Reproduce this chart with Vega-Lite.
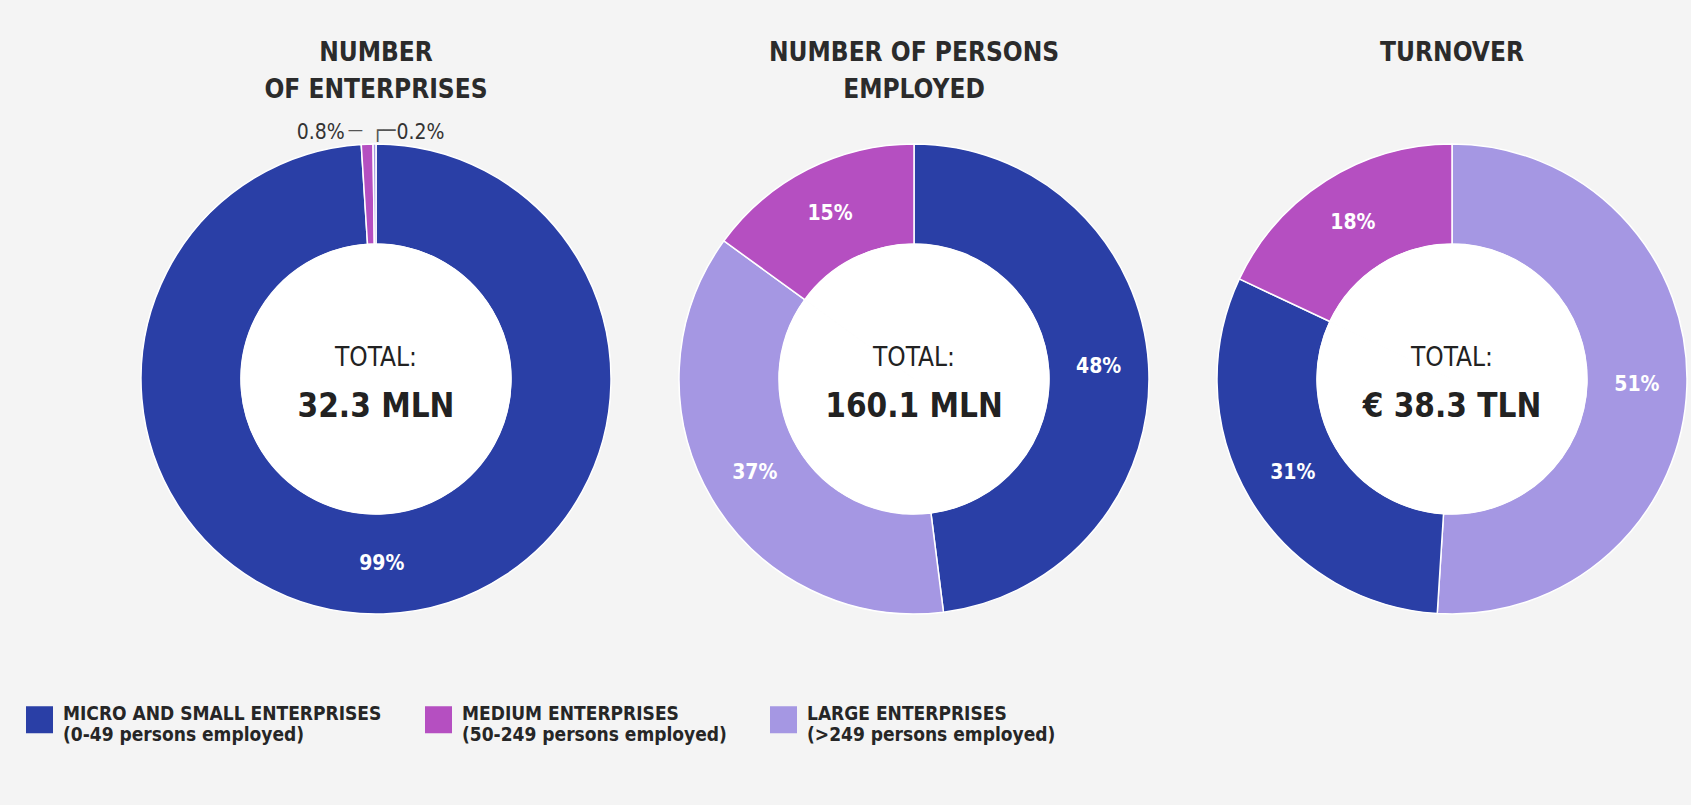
{
  "$schema": "https://vega.github.io/schema/vega-lite/v6.json",
  "background": "#f4f4f4",
  "padding": {"left": 26, "top": 40, "right": 30, "bottom": 80},
  "bounds": "flush",
  "datasets": {
    "shares": [
      {"indicator": "Number of enterprises", "size_class": "MICRO AND SMALL ENTERPRISES", "share": 0.99, "order": 1, "label": "99%"},
      {"indicator": "Number of enterprises", "size_class": "MEDIUM ENTERPRISES", "share": 0.008, "order": 2, "label": "0.8%"},
      {"indicator": "Number of enterprises", "size_class": "LARGE ENTERPRISES", "share": 0.002, "order": 3, "label": "0.2%"},
      {"indicator": "Number of persons employed", "size_class": "MICRO AND SMALL ENTERPRISES", "share": 0.48, "order": 1, "label": "48%"},
      {"indicator": "Number of persons employed", "size_class": "LARGE ENTERPRISES", "share": 0.37, "order": 2, "label": "37%"},
      {"indicator": "Number of persons employed", "size_class": "MEDIUM ENTERPRISES", "share": 0.15, "order": 3, "label": "15%"},
      {"indicator": "Turnover", "size_class": "LARGE ENTERPRISES", "share": 0.51, "order": 1, "label": "51%"},
      {"indicator": "Turnover", "size_class": "MICRO AND SMALL ENTERPRISES", "share": 0.31, "order": 2, "label": "31%"},
      {"indicator": "Turnover", "size_class": "MEDIUM ENTERPRISES", "share": 0.18, "order": 3, "label": "18%"}
    ],
    "totals": [
      {"indicator": "Number of enterprises", "caption": "TOTAL:", "total": "32.3 MLN"},
      {"indicator": "Number of persons employed", "caption": "TOTAL:", "total": "160.1 MLN"},
      {"indicator": "Turnover", "caption": "TOTAL:", "total": "€ 38.3 TLN"}
    ]
  },
  "config": {
    "view": {"stroke": null},
    "font": "DejaVu Sans Condensed, DejaVu Sans, sans-serif",
    "title": {
      "font": "DejaVu Sans Condensed, DejaVu Sans, sans-serif",
      "fontSize": 26, "fontWeight": "bold", "color": "#2b2b2b", "lineHeight": 37,
      "baseline": "alphabetic", "anchor": "middle", "frame": "group"
    }
  },
  "spacing": 68,
  "resolve": {"scale": {"color": "shared", "theta": "independent"}, "legend": {"color": "shared"}},
  "hconcat": [
    {
      "width": 470, "height": 470,
      "title": {"text": ["NUMBER", "OF ENTERPRISES"], "offset": 18},
      "data": {"name": "shares"},
      "transform": [{"filter": "datum.indicator == 'Number of enterprises'"}],
      "encoding": {
        "theta": {"field": "share", "type": "quantitative", "stack": true},
        "order": {"field": "order", "type": "quantitative"}
      },
      "layer": [
        {"mark": {"type": "arc", "innerRadius": 135, "outerRadius": 235, "stroke": "#ffffff", "strokeWidth": 1.5},
         "encoding": {"color": {"field": "size_class", "type": "nominal",
           "scale": {"domain": ["MICRO AND SMALL ENTERPRISES", "MEDIUM ENTERPRISES", "LARGE ENTERPRISES"], "range": ["#2a3fa6", "#b54fc1", "#a597e3"]},
           "legend": {"orient": "none", "legendX": -115, "legendY": 562, "direction": "horizontal", "title": null, "padding": 0,
             "symbolType": "square", "symbolSize": 729, "symbolStrokeWidth": 0, "symbolOpacity": 1, "labelOffset": 10, "columnPadding": 43,
             "labelFont": "DejaVu Sans Condensed, DejaVu Sans, sans-serif",
             "labelFontSize": 19, "labelFontWeight": "bold", "labelColor": "#262626", "labelLimit": 500, "labelBaseline": "alphabetic",
             "labelExpr": "[datum.label, datum.label == 'MICRO AND SMALL ENTERPRISES' ? '(0-49 persons employed)' : datum.label == 'MEDIUM ENTERPRISES' ? '(50-249 persons employed)' : '(>249 persons employed)']"}}}},
        {"mark": {"type": "arc", "innerRadius": 0, "outerRadius": 135, "fill": "#ffffff", "stroke": "#ffffff", "strokeWidth": 1}},
        {"mark": {"type": "text", "radius": 185, "fill": "#ffffff", "fontSize": 21, "fontWeight": "bold", "baseline": "middle"},
         "encoding": {"text": {"field": "label"}, "opacity": {"condition": {"test": "datum.share < 0.05", "value": 0}, "value": 1}}},
        {"mark": {"type": "text", "radius": 248, "fill": "#333333", "fontSize": 21, "align": "right", "baseline": "alphabetic", "dx": -22, "dy": 8},
         "encoding": {"text": {"field": "label"}, "opacity": {"condition": {"test": "datum.size_class == 'MEDIUM ENTERPRISES'", "value": 1}, "value": 0}}},
        {"mark": {"type": "text", "radius": 248, "fill": "#555555", "fontSize": 17, "align": "left", "baseline": "alphabetic", "dx": -19, "dy": 4, "text": "—"},
         "encoding": {"opacity": {"condition": {"test": "datum.size_class == 'MEDIUM ENTERPRISES'", "value": 1}, "value": 0}}},
        {"mark": {"type": "text", "radius": 248, "fill": "#333333", "fontSize": 21, "align": "left", "baseline": "alphabetic", "dx": 22, "dy": 8},
         "encoding": {"text": {"field": "label"}, "opacity": {"condition": {"test": "datum.size_class == 'LARGE ENTERPRISES'", "value": 1}, "value": 0}}},
        {"mark": {"type": "text", "radius": 248, "fill": "#555555", "font": "DejaVu Sans", "fontSize": 20, "align": "left", "baseline": "alphabetic", "dx": -3, "dy": 6, "text": "┌─"},
         "encoding": {"opacity": {"condition": {"test": "datum.size_class == 'LARGE ENTERPRISES'", "value": 1}, "value": 0}}},
        {"data": {"name": "totals"}, "transform": [{"filter": "datum.indicator == 'Number of enterprises'"}],
         "mark": {"type": "text", "fontSize": 26, "fill": "#222222", "baseline": "alphabetic", "dy": -13},
         "encoding": {"text": {"field": "caption"}, "theta": null, "order": null}},
        {"data": {"name": "totals"}, "transform": [{"filter": "datum.indicator == 'Number of enterprises'"}],
         "mark": {"type": "text", "fontSize": 33, "fontWeight": "bold", "fill": "#222222", "baseline": "alphabetic", "dy": 38},
         "encoding": {"text": {"field": "total"}, "theta": null, "order": null}}
      ]
    },
    {
      "width": 470, "height": 470,
      "title": {"text": ["NUMBER OF PERSONS", "EMPLOYED"], "offset": 38},
      "data": {"name": "shares"},
      "transform": [{"filter": "datum.indicator == 'Number of persons employed'"}],
      "encoding": {
        "theta": {"field": "share", "type": "quantitative", "stack": true},
        "order": {"field": "order", "type": "quantitative"}
      },
      "layer": [
        {"mark": {"type": "arc", "innerRadius": 135, "outerRadius": 235, "stroke": "#ffffff", "strokeWidth": 1.5},
         "encoding": {"color": {"field": "size_class", "type": "nominal",
           "scale": {"domain": ["MICRO AND SMALL ENTERPRISES", "MEDIUM ENTERPRISES", "LARGE ENTERPRISES"], "range": ["#2a3fa6", "#b54fc1", "#a597e3"]}}}},
        {"mark": {"type": "arc", "innerRadius": 0, "outerRadius": 135, "fill": "#ffffff", "stroke": "#ffffff", "strokeWidth": 1}},
        {"mark": {"type": "text", "radius": 185, "fill": "#ffffff", "fontSize": 21, "fontWeight": "bold", "baseline": "middle"},
         "encoding": {"text": {"field": "label"}}},
        {"data": {"name": "totals"}, "transform": [{"filter": "datum.indicator == 'Number of persons employed'"}],
         "mark": {"type": "text", "fontSize": 26, "fill": "#222222", "baseline": "alphabetic", "dy": -13},
         "encoding": {"text": {"field": "caption"}, "theta": null, "order": null}},
        {"data": {"name": "totals"}, "transform": [{"filter": "datum.indicator == 'Number of persons employed'"}],
         "mark": {"type": "text", "fontSize": 33, "fontWeight": "bold", "fill": "#222222", "baseline": "alphabetic", "dy": 38},
         "encoding": {"text": {"field": "total"}, "theta": null, "order": null}}
      ]
    },
    {
      "width": 470, "height": 470,
      "title": {"text": "TURNOVER", "offset": 75},
      "data": {"name": "shares"},
      "transform": [{"filter": "datum.indicator == 'Turnover'"}],
      "encoding": {
        "theta": {"field": "share", "type": "quantitative", "stack": true},
        "order": {"field": "order", "type": "quantitative"}
      },
      "layer": [
        {"mark": {"type": "arc", "innerRadius": 135, "outerRadius": 235, "stroke": "#ffffff", "strokeWidth": 1.5},
         "encoding": {"color": {"field": "size_class", "type": "nominal",
           "scale": {"domain": ["MICRO AND SMALL ENTERPRISES", "MEDIUM ENTERPRISES", "LARGE ENTERPRISES"], "range": ["#2a3fa6", "#b54fc1", "#a597e3"]}}}},
        {"mark": {"type": "arc", "innerRadius": 0, "outerRadius": 135, "fill": "#ffffff", "stroke": "#ffffff", "strokeWidth": 1}},
        {"mark": {"type": "text", "radius": 185, "fill": "#ffffff", "fontSize": 21, "fontWeight": "bold", "baseline": "middle"},
         "encoding": {"text": {"field": "label"}}},
        {"data": {"name": "totals"}, "transform": [{"filter": "datum.indicator == 'Turnover'"}],
         "mark": {"type": "text", "fontSize": 26, "fill": "#222222", "baseline": "alphabetic", "dy": -13},
         "encoding": {"text": {"field": "caption"}, "theta": null, "order": null}},
        {"data": {"name": "totals"}, "transform": [{"filter": "datum.indicator == 'Turnover'"}],
         "mark": {"type": "text", "fontSize": 33, "fontWeight": "bold", "fill": "#222222", "baseline": "alphabetic", "dy": 38},
         "encoding": {"text": {"field": "total"}, "theta": null, "order": null}}
      ]
    }
  ]
}
